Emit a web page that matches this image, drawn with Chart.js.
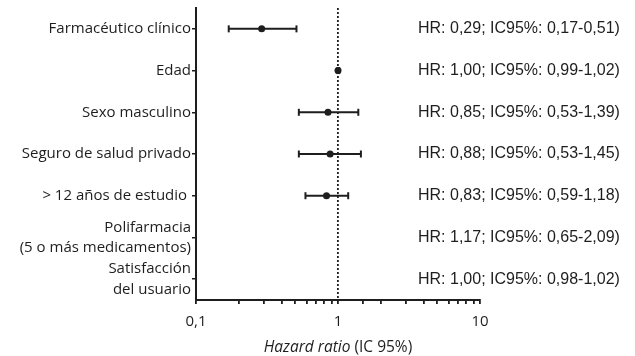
<!DOCTYPE html>
<html lang="es">
<head>
    <meta charset="UTF-8">
    <title>Hazard ratio</title>
    <script src="https://cdn.jsdelivr.net/npm/chart.js"></script>
    <style>
        body { margin: 0; background: #fff; }
        canvas { display: block; }
    </style>
</head>
<body>
    <canvas id="forestChart" width="635" height="356"></canvas>

    <script>
        // datos
        const categories = [
            'Farmacéutico clínico',
            'Edad',
            'Sexo masculino',
            'Seguro de salud privado',
            '> 12 años de estudio ',
            ['Polifarmacia', '(5 o más medicamentos)'],
            ['Satisfacción', 'del usuario']
        ];
        const hrValues = [0.29, 1.00, 0.85, 0.88, 0.83, 1.17, 1.00];
        const ciLower  = [0.17, 0.99, 0.53, 0.53, 0.59, 0.65, 0.98];
        const ciUpper  = [0.51, 1.02, 1.39, 1.45, 1.18, 2.09, 1.02];
        const xTickLabels = { 0.1: '0,1', 1: '1', 10: '10' };

        const ink = '#1e1e1e';
        const fmt = v => v.toFixed(2).replace('.', ',');
        const hrText = hrValues.map((v, i) =>
            'HR: ' + fmt(v) + '; IC95%: ' + fmt(ciLower[i]) + '-' + fmt(ciUpper[i]) + ')');

        // una línea por intervalo de confianza, con topes verticales
        // (y = la misma etiqueta de la categoría, para que la escala la encuentre)
        const ciDatasets = hrValues.map((v, i) => ({
            data: [{ x: ciLower[i], y: categories[i] }, { x: ciUpper[i], y: categories[i] }],
            showLine: true,
            borderColor: ink,
            borderWidth: 2,
            pointStyle: 'line',
            rotation: 90,
            pointRadius: 3.5,
            pointBorderWidth: 2,
            pointBorderColor: ink
        }));

        // texto HR a la derecha + título del eje con cursiva parcial
        const annotations = {
            id: 'annotations',
            afterDatasetsDraw(chart) {
                const { ctx, scales: { x, y } } = chart;
                ctx.save();
                ctx.fillStyle = ink;
                ctx.font = '16px "Liberation Sans", Arial, sans-serif';
                ctx.textBaseline = 'middle';
                ctx.textAlign = 'left';
                hrText.forEach((t, i) => ctx.fillText(t, 418, y.getPixelForValue(i)));

                const cx = x.getPixelForValue(1);
                const a = 'Hazard ratio', b = ' (IC 95%)';
                ctx.font = 'italic 15.5px "Open Sans", sans-serif';
                const wa = ctx.measureText(a).width;
                ctx.font = '15.5px "Open Sans", sans-serif';
                const wb = ctx.measureText(b).width;
                const sx = cx - (wa + wb) / 2;
                ctx.font = 'italic 15.5px "Open Sans", sans-serif';
                ctx.fillText(a, sx, 348);
                ctx.font = '15.5px "Open Sans", sans-serif';
                ctx.fillText(b, sx + wa, 348);
                ctx.restore();
            }
        };

        new Chart(document.getElementById('forestChart'), {
            type: 'scatter',
            data: {
                datasets: [
                    ...ciDatasets,
                    {
                        data: hrValues.map((v, i) => ({ x: v, y: categories[i] })),
                        pointRadius: 3.5,
                        pointBackgroundColor: ink,
                        pointBorderColor: ink,
                        pointBorderWidth: 0
                    }
                ]
            },
            options: {
                responsive: false,
                animation: false,
                layout: { padding: { top: 8, right: 155, left: 0, bottom: 0 } },
                plugins: {
                    legend: { display: false },
                    tooltip: { enabled: false }
                },
                scales: {
                    x: {
                        type: 'logarithmic',
                        min: 0.1,
                        max: 10,
                        afterFit(s) { s.height = 56; s.paddingLeft = 0; s.paddingRight = 0; },
                        border: { color: ink, width: 2, dash: [2, 2] },
                        grid: {
                            color: c => (c.tick && c.tick.value === 1) ? ink : 'rgba(0,0,0,0)',
                            lineWidth: 1.8,
                            tickColor: ink,
                            tickLength: 4,
                            tickBorderDash: []
                        },
                        ticks: {
                            autoSkip: false,
                            maxRotation: 0,
                            padding: 9,
                            color: ink,
                            font: { family: '"Open Sans", sans-serif', size: 15 },
                            callback: v => xTickLabels[v] || ''
                        }
                    },
                    y: {
                        type: 'category',
                        labels: categories,
                        offset: true,
                        afterFit(s) { s.width = 196; s.paddingTop = 0; s.paddingBottom = 0; },
                        border: { color: ink, width: 2 },
                        grid: {
                            drawOnChartArea: false,
                            tickLength: 4,
                            tickColor: ink,
                            lineWidth: 1.5
                        },
                        ticks: {
                            autoSkip: false,
                            padding: 1,
                            color: ink,
                            font: { family: '"Open Sans", sans-serif', size: 15, lineHeight: 1.35 }
                        }
                    }
                }
            },
            plugins: [annotations]
        });
    </script>
</body>
</html>
